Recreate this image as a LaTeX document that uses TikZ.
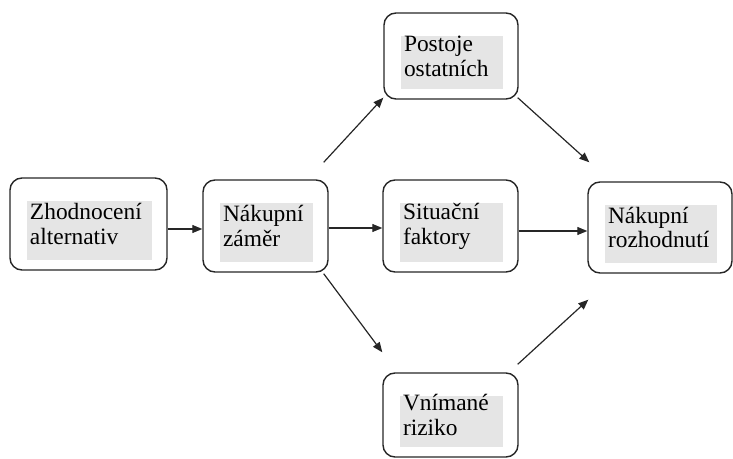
\documentclass[tikz,border=0pt]{standalone}
\usepackage{fontspec}
\setmainfont{Liberation Serif}
\usetikzlibrary{arrows.meta}
\definecolor{patch}{gray}{0.90}
\definecolor{ink}{gray}{0.15}
\tikzset{
	box/.style 2 args={draw=ink, line width=1.4bp, rounded corners=12bp,
		inner xsep=20bp, inner ysep=0pt, text width=#1bp, minimum height=#2bp,
		align=left, font=\fontsize{23.5}{25}\selectfont,
		path picture={\fill[patch, sharp corners] ([xshift=17bp,yshift=-23bp]path picture bounding box.north west)
			rectangle ([xshift=-15bp,yshift=10bp]path picture bounding box.south east);}},
	arr/.style={-{Triangle[length=10bp,width=8bp]}, line width=1.2bp, draw=ink}
}
\begin{document}
\begin{tikzpicture}[x=1bp,y=-1bp]
\useasboundingbox (0,0) rectangle (733,459);
% boxes
\node[box={117}{92}] (hodnoceni) at (88.5,224) {Zhodnocení\\alternativ};
\node[box={85}{92}] (zamer) at (265.5,226) {Nákupní\\záměr};
\node[box={94}{86}] (postoje) at (451,56) {Postoje\\ostatních};
\node[box={95}{92}] (faktory) at (450.5,226) {Situační\\faktory};
\node[box={104}{91}] (rozhodnuti) at (660,227.5) {Nákupní\\rozhodnutí};
\node[box={95}{84}] (riziko) at (450.5,415) {Vnímané\\riziko};
% arrows
\draw[arr] ([yshift=-5bp]hodnoceni.east) -- ([yshift=-5bp]hodnoceni.east -| zamer.west);
\draw[arr] ([yshift=-2bp]zamer.east) -- ([yshift=-2bp]zamer.east -| faktory.west);
\draw[arr] ([yshift=-5bp]faktory.east) -- ([yshift=-5bp]faktory.east -| rozhodnuti.west);
\draw[arr] ([xshift=-5bp,yshift=17bp]zamer.north east) -- ([yshift=2bp]postoje.south west);
\draw[arr] ([xshift=-5bp,yshift=-1bp]zamer.south east) -- ([yshift=20bp]riziko.north west);
\draw[arr] ([xshift=-1bp,yshift=2bp]postoje.south east) -- ([xshift=2bp,yshift=19bp]rozhodnuti.north west);
\draw[arr] ([xshift=-1bp,yshift=8bp]riziko.north east) -- ([xshift=1bp,yshift=-26bp]rozhodnuti.south west);
\end{tikzpicture}
\end{document}
